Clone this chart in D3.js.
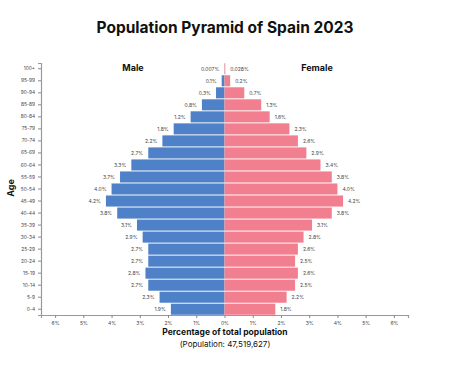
<!DOCTYPE html>
<html>
<head>
<meta charset="utf-8">
<script src="https://cdn.jsdelivr.net/npm/d3@7"></script>
<style>
  body { margin: 0; background: #fff; }
  text { font-family: Inter, Lato, "DejaVu Sans", sans-serif; }
</style>
</head>
<body>
<div id="chart"></div>
<script>
// data
var ageGroups = ['0-4', '5-9', '10-14', '15-19', '20-24', '25-29', '30-34', '35-39', '40-44', '45-49',
  '50-54', '55-59', '60-64', '65-69', '70-74', '75-79', '80-84', '85-89', '90-94', '95-99', '100+'];
var maleValues = [1.9, 2.3, 2.7, 2.8, 2.7, 2.7, 2.9, 3.1, 3.8, 4.2,
  4.0, 3.7, 3.3, 2.7, 2.2, 1.8, 1.2, 0.8, 0.3, 0.1, 0.007];
var femaleValues = [1.8, 2.2, 2.5, 2.6, 2.5, 2.6, 2.8, 3.1, 3.8, 4.2,
  4.0, 3.8, 3.4, 2.9, 2.6, 2.3, 1.6, 1.3, 0.7, 0.2, 0.028];
var maleLabels = ['1.9%', '2.3%', '2.7%', '2.8%', '2.7%', '2.7%', '2.9%', '3.1%', '3.8%', '4.2%',
  '4.0%', '3.7%', '3.3%', '2.7%', '2.2%', '1.8%', '1.2%', '0.8%', '0.3%', '0.1%', '0.007%'];
var femaleLabels = ['1.8%', '2.2%', '2.5%', '2.6%', '2.5%', '2.6%', '2.8%', '3.1%', '3.8%', '4.2%',
  '4.0%', '3.8%', '3.4%', '2.9%', '2.6%', '2.3%', '1.6%', '1.3%', '0.7%', '0.2%', '0.028%'];
var xTicks = [-6, -5, -4, -3, -2, -1, 0, 1, 2, 3, 4, 5, 6];

var maleColor = '#4e81c7';
var femaleColor = '#f27f8f';

// dimensions
var dimensions = {
  width: 450,
  height: 377,
  margin: { top: 63, bottom: 62, left: 41, right: 42 }
};
dimensions.containerWidth = dimensions.width - dimensions.margin.left - dimensions.margin.right;
dimensions.containerHeight = dimensions.height - dimensions.margin.top - dimensions.margin.bottom;

var svg = d3.select('#chart')
  .append('svg')
  .attr('width', dimensions.width)
  .attr('height', dimensions.height);

var container = svg.append('g')
  .attr('transform', 'translate(' + dimensions.margin.left + ',' + dimensions.margin.top + ')');

// scales
var xScale = d3.scaleLinear()
  .domain([-6.5, 6.5])
  .range([0, dimensions.containerWidth]);

var yScale = d3.scaleBand()
  .domain(ageGroups.slice().reverse())
  .range([0, dimensions.containerHeight])
  .paddingInner(0.08)
  .paddingOuter(0.02);

var rows = ageGroups.map(function (g, i) {
  return { age: g, male: maleValues[i], female: femaleValues[i], ml: maleLabels[i], fl: femaleLabels[i] };
});

// bars
container.append('g').selectAll('rect')
  .data(rows)
  .join('rect')
  .attr('x', d => xScale(-d.male))
  .attr('y', d => yScale(d.age))
  .attr('width', d => xScale(0) - xScale(-d.male))
  .attr('height', yScale.bandwidth())
  .attr('fill', maleColor);

container.append('g').selectAll('rect')
  .data(rows)
  .join('rect')
  .attr('x', xScale(0))
  .attr('y', d => yScale(d.age))
  .attr('width', d => xScale(d.female) - xScale(0))
  .attr('height', yScale.bandwidth())
  .attr('fill', femaleColor);

// value labels
container.append('g').selectAll('text')
  .data(rows)
  .join('text')
  .attr('x', d => xScale(-d.male) - 5)
  .attr('y', d => yScale(d.age) + yScale.bandwidth() / 2)
  .attr('dy', '0.35em')
  .attr('text-anchor', 'end')
  .attr('font-size', 5)
  .attr('fill', '#444')
  .text(d => d.ml);

container.append('g').selectAll('text')
  .data(rows)
  .join('text')
  .attr('x', d => xScale(d.female) + 5)
  .attr('y', d => yScale(d.age) + yScale.bandwidth() / 2)
  .attr('dy', '0.35em')
  .attr('text-anchor', 'start')
  .attr('font-size', 5)
  .attr('fill', '#444')
  .text(d => d.fl);

// axes
var xAxis = d3.axisBottom(xScale)
  .tickValues(xTicks)
  .tickSize(3)
  .tickPadding(3)
  .tickFormat(d => Math.abs(d) + '%');

var xAxisGroup = container.append('g')
  .attr('transform', 'translate(0,' + dimensions.containerHeight + ')')
  .call(xAxis);
xAxisGroup.selectAll('text').attr('font-size', 5).attr('fill', '#444');
xAxisGroup.selectAll('line').attr('stroke', '#888');
xAxisGroup.select('.domain').attr('stroke', '#999').attr('stroke-width', 1.2);

var yAxis = d3.axisLeft(yScale)
  .tickSize(3)
  .tickPadding(3);

var yAxisGroup = container.append('g')
  .call(yAxis);
yAxisGroup.selectAll('text').attr('font-size', 4.8).attr('fill', '#444');
yAxisGroup.selectAll('line').attr('stroke', '#888');
yAxisGroup.select('.domain').attr('stroke', '#999').attr('stroke-width', 1.2);

// titles
svg.append('text')
  .attr('x', 225)
  .attr('y', 33)
  .attr('text-anchor', 'middle')
  .attr('font-size', 15.5)
  .attr('font-weight', 'bold')
  .attr('fill', '#111')
  .text('Population Pyramid of Spain 2023');

svg.append('text')
  .attr('x', 133)
  .attr('y', 71)
  .attr('text-anchor', 'middle')
  .attr('font-size', 9)
  .attr('font-weight', 'bold')
  .attr('fill', '#111')
  .text('Male');

svg.append('text')
  .attr('x', 317)
  .attr('y', 71)
  .attr('text-anchor', 'middle')
  .attr('font-size', 9)
  .attr('font-weight', 'bold')
  .attr('fill', '#111')
  .text('Female');

svg.append('text')
  .attr('transform', 'translate(14,188) rotate(-90)')
  .attr('text-anchor', 'middle')
  .attr('font-size', 9)
  .attr('font-weight', 'bold')
  .attr('fill', '#111')
  .text('Age');

svg.append('text')
  .attr('x', 225)
  .attr('y', 335)
  .attr('text-anchor', 'middle')
  .attr('font-size', 8.5)
  .attr('font-weight', 'bold')
  .attr('fill', '#111')
  .text('Percentage of total population');

svg.append('text')
  .attr('x', 225)
  .attr('y', 347)
  .attr('text-anchor', 'middle')
  .attr('font-size', 8)
  .attr('fill', '#111')
  .text('(Population: 47,519,627)');
</script>
</body>
</html>
